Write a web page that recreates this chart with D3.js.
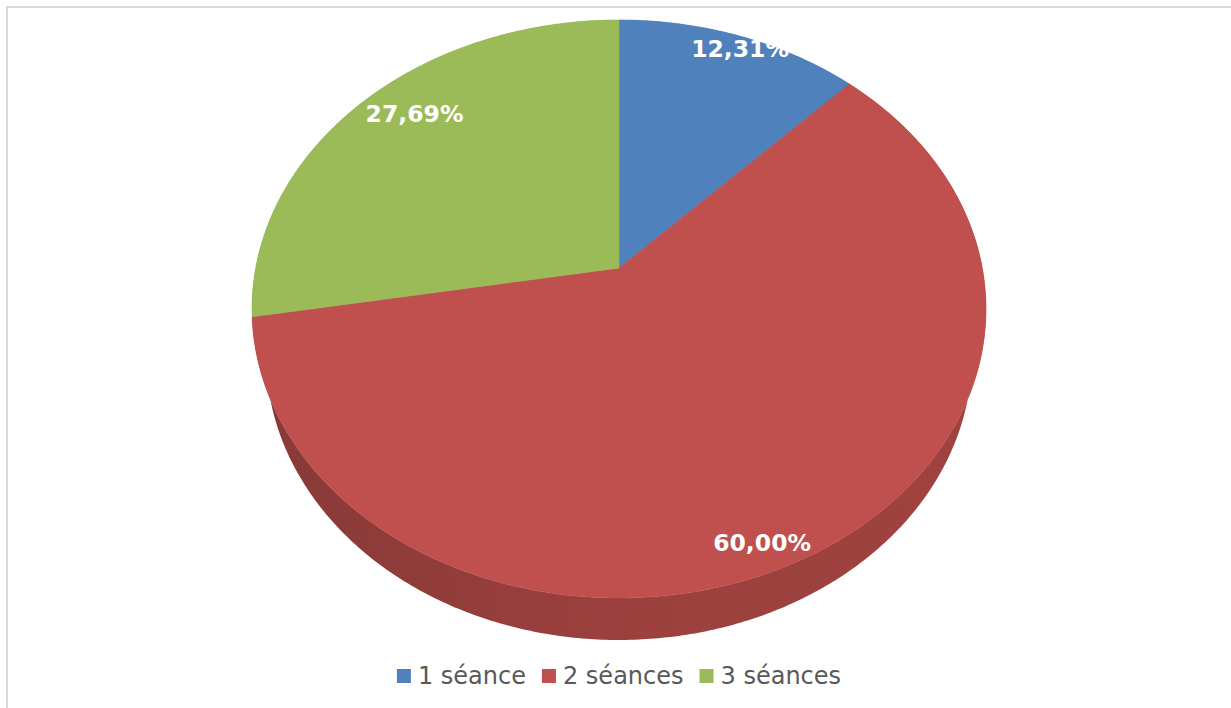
<!DOCTYPE html>
<html><head><meta charset="utf-8">
<script src="https://cdn.jsdelivr.net/npm/d3@7"></script>
<style>html,body{margin:0;padding:0;background:#fff;} svg{display:block;font-family:"DejaVu Sans",Verdana,sans-serif;}</style>
</head><body>
<svg id="chart" width="1231" height="708"></svg>
<script>
const categories = ["1 séance", "2 séances", "3 séances"];
const values = [8, 39, 18];
const colors = ["#4F81BD", "#C0504D", "#9BBB59"];
const wallColors = [["#3d6694","#4777ae","#4a7bb3"], ["#883937","#9b403d","#a04340"], ["#789245","#89a64f","#8ead52"]];

const W = 1231, H = 708;
const svg = d3.select("#chart");
// chart border
svg.append("rect").attr("x", 7).attr("y", 7).attr("width", W + 20).attr("height", H + 20)
  .attr("fill", "#fff").attr("stroke", "#d9d9d9").attr("stroke-width", 2);

// 3D projection parameters
const cx = 619, cy = 268;
const sinP = 0.7795, cosP = 0.6265;
const Dcam = 4.418, focal = 1605, thick = 0.2226;
function project(x, y, z) {
  const v = z * sinP - y * cosP;
  const w = z * cosP + y * sinP;
  const s = focal / (Dcam - w);
  return [cx + x * s, cy + v * s, s];
}
function rim(a, y, r = 1) { return project(r * Math.sin(a), y, -r * Math.cos(a)); }

const pie = d3.pie().sort(null).value(d => d);
const arcs = pie(values);
const total = d3.sum(values);
const fmt = d3.formatLocale({decimal: ",", thousands: " ", grouping: [3], currency: ["", "€"]}).format(".2%");

const line = d3.line();
const defs = svg.append("defs");
arcs.forEach((d, i) => {
  const g = defs.append("linearGradient").attr("id", "wall" + i)
    .attr("gradientUnits", "userSpaceOnUse").attr("x1", 252).attr("x2", 986).attr("y1", 0).attr("y2", 0);
  g.append("stop").attr("offset", "0%").attr("stop-color", wallColors[i][0]);
  g.append("stop").attr("offset", "50%").attr("stop-color", wallColors[i][1]);
  g.append("stop").attr("offset", "100%").attr("stop-color", wallColors[i][2]);
});

function arcPts(a0, a1, y) {
  const n = Math.max(8, Math.ceil((a1 - a0) / 0.01));
  return d3.range(n + 1).map(k => rim(a0 + (a1 - a0) * k / n, y).slice(0, 2));
}

// walls: far to near
const wallOrder = arcs.map((d, i) => i).sort((p, q) => {
  const mp = -Math.cos((arcs[p].startAngle + arcs[p].endAngle) / 2);
  const mq = -Math.cos((arcs[q].startAngle + arcs[q].endAngle) / 2);
  return mp - mq;
});
const gWalls = svg.append("g");
wallOrder.forEach(i => {
  const d = arcs[i];
  const top = arcPts(d.startAngle, d.endAngle, 0);
  const bot = arcPts(d.startAngle, d.endAngle, -thick).reverse();
  gWalls.append("path").attr("d", line(top.concat(bot)) + "Z").attr("fill", `url(#wall${i})`);
});

// top faces
const apex = project(0, 0, 0).slice(0, 2);
const gTop = svg.append("g");
arcs.forEach((d, i) => {
  const pts = [apex].concat(arcPts(d.startAngle, d.endAngle, 0));
  gTop.append("path").attr("d", line(pts) + "Z").attr("fill", colors[i])
    .attr("stroke", colors[i]).attr("stroke-width", 0.6);
});

// labels (inside end): label box anchored on the rim point at the slice's mid angle,
// with the anchor chosen by compass octant of that angle
const gLab = svg.append("g");
const fs = 23.5, capH = 0.729 * fs;
const axF = [0.5, 1, 1, 1, 0.5, 0, 0, 0];
const ayF = [0, 0, 0.5, 1, 1, 1, 0.5, 0];
arcs.forEach((d, i) => {
  const t = gLab.append("text").text(fmt(d.value / total))
    .attr("font-size", fs).attr("font-weight", "bold").attr("fill", "#fff")
    .attr("text-anchor", "middle");
  const bw = t.node().getComputedTextLength() + 2, bh = capH + 8;
  const mid = (d.startAngle + d.endAngle) / 2;
  const oct = Math.round(mid / (Math.PI / 4)) % 8;
  const p = rim(mid, 0);
  const left = p[0] - axF[oct] * bw, top = p[1] - ayF[oct] * bh;
  t.attr("x", left + bw / 2).attr("y", top + 4 + capH);
});

// legend
const gLeg = svg.append("g");
let xCur = 0;
categories.forEach((c, i) => {
  const g = gLeg.append("g");
  g.append("rect").attr("x", 0).attr("y", 669).attr("width", 14).attr("height", 14).attr("fill", colors[i]);
  const tx = g.append("text").attr("x", 21).attr("y", 684).text(c)
    .attr("font-size", 24).attr("fill", "#595959");
  const w = 21 + tx.node().getComputedTextLength();
  g.attr("transform", `translate(${xCur},0)`);
  xCur += w + 16;
});
const totalW = xCur - 16;
gLeg.attr("transform", `translate(${619 - totalW / 2},0)`);
</script>
</body></html>
